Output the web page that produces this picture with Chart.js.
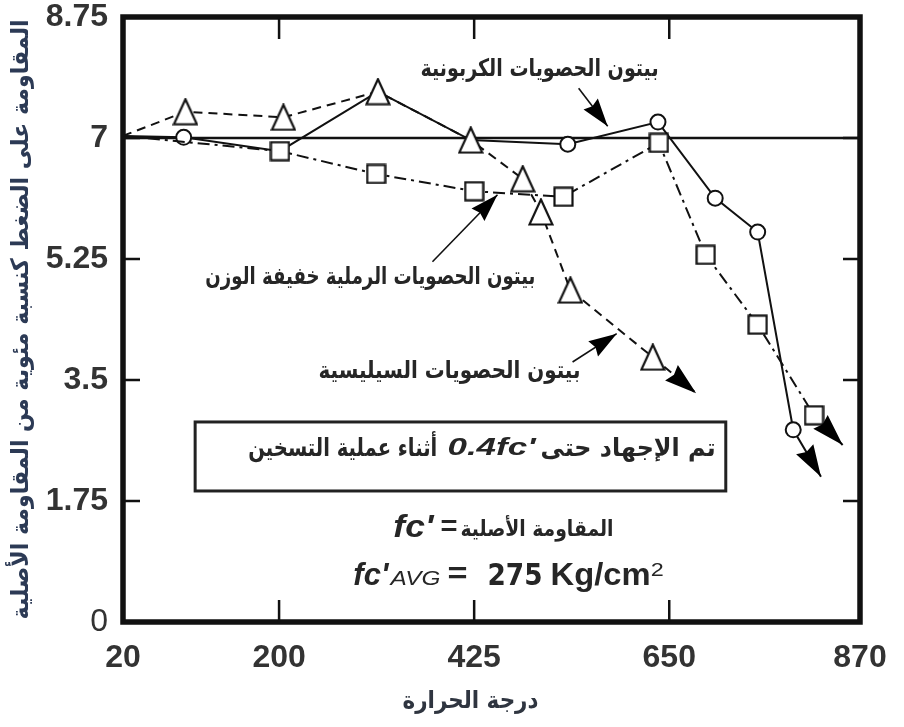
<!DOCTYPE html>
<html>
<head>
<meta charset="utf-8">
<script src="https://cdn.jsdelivr.net/npm/chart.js@4.4.1/dist/chart.umd.min.js"></script>
<style>
html,body{margin:0;padding:0;background:#fff;}
#wrap{width:904px;height:727px;}
</style>
</head>
<body>
<div id="wrap"><canvas id="c" width="904" height="727"></canvas></div>
<script>
// ---------- data ----------
const tempTicks = [20, 200, 425, 650, 870];
const tempTickLabels = ['20', '200', '425', '650', '870'];
const strengthTicks = [0, 1.75, 3.5, 5.25, 7, 8.75];
const strengthTickLabels = ['0', '1.75', '3.5', '5.25', '7', '8.75'];
const referenceStrength = 7;

const carbonateTemp     = [20, 90, 201, 314, 421, 533, 637, 703, 752, 793, 825];
const carbonateStrength = [7.03, 7.01, 6.81, 7.67, 6.97, 6.91, 7.23, 6.13, 5.64, 2.78, 2.10];

const sandLightTemp     = [20, 201, 312, 425, 528, 638, 692, 752, 817, 850];
const sandLightStrength = [7.03, 6.81, 6.48, 6.23, 6.15, 6.93, 5.31, 4.30, 2.99, 2.56];

const siliceousTemp     = [20, 92, 205, 314, 421, 481, 502, 536, 631, 681];
const siliceousStrength = [7.03, 7.38, 7.30, 7.67, 6.97, 6.41, 5.93, 4.80, 3.83, 3.31];

// ---------- styles ----------
const INK = '#111';
const TXT = '#262626';
const ARABIC = '"DejaVu Sans", sans-serif';
const LATIN = '"Liberation Sans", Arial, sans-serif';

function toXY(xs, ys) { return xs.map((x, i) => ({x: x, y: ys[i]})); }

function triangleMarker() {
  const c = document.createElement('canvas');
  c.width = 26; c.height = 28;
  const g = c.getContext('2d');
  g.beginPath();
  g.moveTo(13, 1.5); g.lineTo(24.5, 26.5); g.lineTo(1.5, 26.5); g.closePath();
  g.fillStyle = '#fff'; g.fill();
  g.lineWidth = 2.2; g.strokeStyle = INK; g.lineJoin = 'miter'; g.stroke();
  return c;
}
function squareMarker() {
  const c = document.createElement('canvas');
  c.width = 21; c.height = 21;
  const g = c.getContext('2d');
  g.fillStyle = '#fff'; g.fillRect(1, 1, 19, 19);
  g.lineWidth = 2.2; g.strokeStyle = INK; g.strokeRect(1.5, 1.5, 18, 18);
  return c;
}
const TRI = triangleMarker();
const SQ = squareMarker();

// annotation texts (anchored in data units)
const labels = [
  {text: 'بيتون الحصويات الكربونية', x: 500.4, y: 7.98, align: 'center', base: 'middle', font: `bold 24px ${ARABIC}`, w: 238},
  {text: 'بيتون الحصويات الرملية خفيفة الوزن', x: 305.3, y: 4.975, align: 'center', base: 'middle', font: `bold 24px ${ARABIC}`, w: 330},
  {text: 'بيتون الحصويات السيليسية', x: 396.5, y: 3.616, align: 'center', base: 'middle', font: `bold 24px ${ARABIC}`, w: 262},
  // box line
  {text: 'أثناء عملية التسخين', x: 164.4, y: 2.40, align: 'left', font: `bold 25px ${ARABIC}`, w: 189},
  {text: "0.4fc'", x: 394.2, y: 2.415, align: 'left', font: `italic bold 24px ${LATIN}`, w: 88},
  {text: 'تم الإجهاد حتى', x: 501.6, y: 2.40, align: 'left', font: `bold 25px ${ARABIC}`, w: 175},
  // fc' line
  {text: "fc'", x: 331.8, y: 1.229, align: 'left', font: `italic bold 31px ${LATIN}`, w: 40},
  {text: '=', x: 386.1, y: 1.258, align: 'left', font: `bold 28px ${LATIN}`, w: 17},
  {text: 'المقاومة الأصلية', x: 409.2, y: 1.245, align: 'left', font: `bold 22px ${ARABIC}`, w: 153},
  // fc'avg line
  {text: "fc'", x: 285.6, y: 0.535, align: 'left', font: `italic bold 32px ${LATIN}`, w: 35},
  {text: 'AVG', x: 328.4, y: 0.535, align: 'left', font: `italic 20px ${LATIN}`, w: 50},
  {text: '=', x: 394.2, y: 0.56, align: 'left', font: `bold 30px ${LATIN}`, w: 20},
  {text: '275', x: 440.4, y: 0.535, align: 'left', font: `bold 30px ${'"DejaVu Sans", sans-serif'}`, w: 55},
  {text: 'Kg/cm', x: 513.1, y: 0.535, align: 'left', font: `bold 32px ${LATIN}`, w: 100},
  {text: '2', x: 628.6, y: 0.665, align: 'left', font: `19px ${LATIN}`, w: 13}
];
const noteBox = {x1: 103.2, x2: 715.2, y1: 2.893, y2: 1.895};
const pointerArrows = [
  {from: [545.5, 7.72], to: [579.0, 7.17]},
  {from: [376.9, 5.21], to: [451.9, 6.18]},
  {from: [538.5, 3.76], to: [589.4, 4.17]}
];

function drawText(ctx, text, font, color, x, y, align, base, targetW) {
  ctx.save();
  ctx.font = font;
  ctx.fillStyle = color;
  ctx.textBaseline = base || 'alphabetic';
  ctx.textAlign = 'left';
  const w = ctx.measureText(text).width;
  const s = targetW ? targetW / w : 1;
  ctx.translate(x, y);
  ctx.scale(s, 1);
  let dx = 0;
  if (align === 'center') dx = -w / 2;
  else if (align === 'right') dx = -w;
  ctx.fillText(text, dx, 0);
  ctx.restore();
}

function arrowHead(ctx, x0, y0, x1, y1, len, half) {
  const a = Math.atan2(y1 - y0, x1 - x0);
  ctx.save();
  ctx.translate(x1, y1);
  ctx.rotate(a);
  ctx.beginPath();
  ctx.moveTo(0, 0);
  ctx.lineTo(-len, -half);
  ctx.lineTo(-len * 0.9, 0);
  ctx.lineTo(-len, half);
  ctx.closePath();
  ctx.fillStyle = '#000';
  ctx.fill();
  ctx.restore();
}

const decor = {
  id: 'decor',
  beforeDatasetsDraw(chart) {
    const {ctx, chartArea: a, scales: {y}} = chart;
    const yy = y.getPixelForValue(referenceStrength);
    ctx.save();
    ctx.strokeStyle = INK; ctx.lineWidth = 2.6;
    ctx.beginPath(); ctx.moveTo(a.left, yy); ctx.lineTo(a.right, yy); ctx.stroke();
    ctx.restore();
  },
  afterDatasetsDraw(chart) {
    const {ctx, chartArea: a, scales: {x, y}} = chart;
    // series end arrowheads
    chart.data.datasets.forEach((ds, i) => {
      const pts = chart.getDatasetMeta(i).data;
      const p0 = pts[pts.length - 2], p1 = pts[pts.length - 1];
      arrowHead(ctx, p0.x, p0.y, p1.x, p1.y, 32, 10);
    });
    // frame
    ctx.save();
    ctx.strokeStyle = INK; ctx.lineWidth = 5.5;
    ctx.strokeRect(a.left, a.top, a.right - a.left, a.bottom - a.top);
    // inward ticks
    ctx.lineWidth = 2.5;
    ctx.beginPath();
    tempTicks.slice(1, -1).forEach(v => {
      const px = x.getPixelForValue(v);
      ctx.moveTo(px, a.bottom); ctx.lineTo(px, a.bottom - 22);
      ctx.moveTo(px, a.top); ctx.lineTo(px, a.top + 22);
    });
    strengthTicks.slice(1, -1).forEach(v => {
      const py = y.getPixelForValue(v);
      ctx.moveTo(a.left, py); ctx.lineTo(a.left + 17, py);
      ctx.moveTo(a.right, py); ctx.lineTo(a.right - 17, py);
    });
    ctx.stroke();
    // note box
    ctx.lineWidth = 3;
    const bx1 = x.getPixelForValue(noteBox.x1), bx2 = x.getPixelForValue(noteBox.x2);
    const by1 = y.getPixelForValue(noteBox.y1), by2 = y.getPixelForValue(noteBox.y2);
    ctx.fillStyle = '#fff';
    ctx.fillRect(bx1, by1, bx2 - bx1, by2 - by1);
    ctx.strokeStyle = '#222';
    ctx.strokeRect(bx1, by1, bx2 - bx1, by2 - by1);
    // pointer arrows
    ctx.strokeStyle = '#111'; ctx.lineWidth = 1.6;
    pointerArrows.forEach(p => {
      const x0 = x.getPixelForValue(p.from[0]), y0 = y.getPixelForValue(p.from[1]);
      const x1 = x.getPixelForValue(p.to[0]), y1 = y.getPixelForValue(p.to[1]);
      ctx.beginPath(); ctx.moveTo(x0, y0); ctx.lineTo(x1, y1); ctx.stroke();
      arrowHead(ctx, x0, y0, x1, y1, 28, 9);
    });
    ctx.restore();
    // labels
    labels.forEach(l => {
      drawText(ctx, l.text, l.font, TXT, x.getPixelForValue(l.x), y.getPixelForValue(l.y), l.align, l.base, l.w);
    });
  },
  afterDraw(chart) {
    const {ctx, chartArea: a} = chart;
    // y axis title (rotated)
    ctx.save();
    ctx.translate(22, (a.top + a.bottom) / 2);
    ctx.rotate(-Math.PI / 2);
    drawText(ctx, 'المقاومة على الضغط كنسبة مئوية من المقاومة الأصلية', `bold 24px ${ARABIC}`, '#2c3a55', 0, 0, 'center', 'middle', 600);
    ctx.restore();
    // x axis title
    drawText(ctx, 'درجة الحرارة', `bold 24px ${ARABIC}`, '#2f3540', (a.left + a.right) / 2 - 21, 702, 'center', 'middle', 136);
  }
};

new Chart(document.getElementById('c'), {
  type: 'line',
  data: {
    datasets: [
      {
        label: 'بيتون الحصويات الكربونية',
        data: toXY(carbonateTemp, carbonateStrength),
        borderColor: INK, borderWidth: 2,
        pointStyle: 'circle',
        pointRadius: [0, 7.5, 0, 0, 0, 7.5, 7.5, 7.5, 7.5, 7.5, 0],
        pointBackgroundColor: '#fff', pointBorderColor: INK, pointBorderWidth: 2,
        tension: 0, order: 3
      },
      {
        label: 'بيتون الحصويات الرملية خفيفة الوزن',
        data: toXY(sandLightTemp, sandLightStrength),
        borderColor: INK, borderWidth: 2, borderDash: [12, 5, 3, 5],
        pointStyle: SQ,
        pointRadius: [0, 10, 10, 10, 10, 10, 10, 10, 10, 0],
        tension: 0, order: 2
      },
      {
        label: 'بيتون الحصويات السيليسية',
        data: toXY(siliceousTemp, siliceousStrength),
        borderColor: INK, borderWidth: 2, borderDash: [9, 6],
        pointStyle: TRI,
        pointRadius: [0, 10, 10, 10, 10, 10, 10, 10, 10, 0],
        tension: 0, order: 1
      }
    ]
  },
  options: {
    responsive: false,
    animation: false,
    layout: {padding: {left: 0, right: 44, top: 17, bottom: 0}},
    plugins: {legend: {display: false}, tooltip: {enabled: false}},
    scales: {
      x: {
        type: 'linear', min: 20, max: 870,
        afterBuildTicks: s => { s.ticks = tempTicks.map(v => ({value: v})); },
        afterFit: s => { s.height = 105; s.paddingLeft = 0; s.paddingRight = 0; },
        grid: {display: false, drawTicks: false},
        border: {display: false},
        ticks: {
          autoSkip: false, maxRotation: 0, padding: 17,
          color: '#333',
          font: {family: LATIN, size: 32, weight: 'bold'},
          callback: (v, i) => tempTickLabels[i]
        }
      },
      y: {
        type: 'linear', min: 0, max: 8.75,
        afterBuildTicks: s => { s.ticks = strengthTicks.map(v => ({value: v})); },
        afterFit: s => { s.width = 123; s.paddingTop = 0; s.paddingBottom = 0; },
        grid: {display: false, drawTicks: false},
        border: {display: false},
        ticks: {
          autoSkip: false, padding: 15,
          color: '#333',
          font: c => ({family: LATIN, size: 32, weight: (c.tick && c.tick.value === 0) ? 'normal' : 'bold'}),
          callback: (v, i) => strengthTickLabels[i]
        }
      }
    }
  },
  plugins: [decor]
});
</script>
</body>
</html>
